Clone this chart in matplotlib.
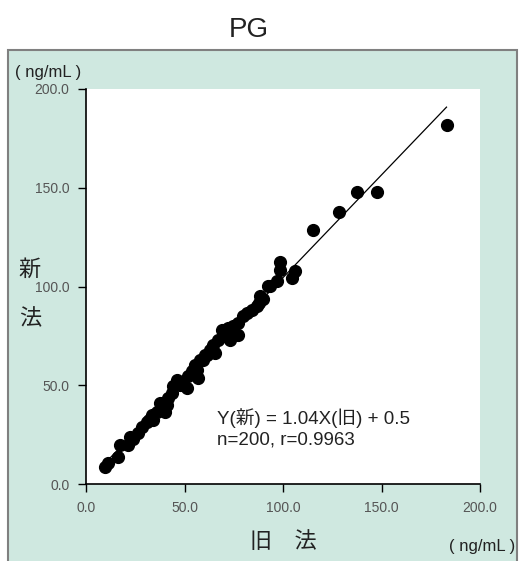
import matplotlib
matplotlib.use("Agg")
import matplotlib.pyplot as plt
from matplotlib.patches import Rectangle
import numpy as np

plt.rcParams['font.family'] = ['Liberation Sans', 'Noto Sans CJK JP']

old_x = [9.6, 11.3, 16.4, 17.3, 21.5, 22.3, 26.5, 28.2, 30.8, 33.4, 34.2, 35.9, 38.4, 37.6,
         41.0, 40.1, 41.8, 43.5, 44.3, 46.0, 51.1, 49.4, 51.9, 53.6, 56.2, 57.0, 55.3, 59.5,
         61.3, 55.3, 57.9, 60.4, 62.9, 64.6, 67.2, 70.6, 73.1, 77.3, 73.1, 68.9, 72.2, 74.8,
         77.3, 79.9, 81.6, 84.1, 88.0, 86.6, 88.3, 92.5, 96.8, 104.4, 106.0, 98.5, 98.5,
         93.4, 115.4, 128.6, 137.4, 147.5, 183.2, 24.0, 32.0, 47.5, 65.5, 90.0]
new_y = [8.8, 10.5, 13.5, 19.8, 19.8, 24.0, 25.7, 29.1, 31.6, 35.0, 32.5, 36.7, 39.2, 41.0,
         40.1, 36.7, 43.5, 46.0, 49.4, 52.8, 48.6, 51.1, 54.5, 57.0, 57.9, 53.6, 59.5, 62.9,
         65.5, 60.4, 62.9, 65.5, 68.0, 70.6, 73.1, 74.8, 73.1, 75.6, 76.5, 78.2, 79.0, 79.9,
         81.6, 84.9, 86.6, 88.3, 91.7, 90.0, 95.1, 100.2, 102.7, 104.4, 107.8, 108.6, 112.4,
         100.2, 128.6, 137.9, 148.0, 147.6, 181.7, 23.0, 32.5, 50.0, 66.5, 93.5]

slope = 1.04
intercept = 0.5
line_x = [10.0, 183.0]

ticks = [0, 50, 100, 150, 200]
tick_labels = ['0.0', '50.0', '100.0', '150.0', '200.0']

W, H = 522, 561
fig = plt.figure(figsize=(W / 100, H / 100), dpi=100)
fig.patch.set_facecolor('white')

# teal background panel
bgax = fig.add_axes([0, 0, 1, 1], zorder=-5)
bgax.set_xlim(0, W)
bgax.set_ylim(H, 0)
bgax.axis('off')
bgax.add_patch(Rectangle((8, 50), 517 - 8, 561 - 50 + 5, facecolor='#cfe8e0',
                         edgecolor='#808080', linewidth=1.5))

ax = fig.add_axes([86 / W, (561 - 484) / H, (480 - 86) / W, (484 - 89) / H], zorder=1)
ax.set_facecolor('white')
ax.set_xlim(0, 200)
ax.set_ylim(0, 200)
ax.spines['top'].set_visible(False)
ax.spines['right'].set_visible(False)
ax.spines['left'].set_linewidth(1.2)
ax.spines['bottom'].set_linewidth(1.2)
ax.set_xticks(ticks)
ax.set_xticklabels(tick_labels)
ax.set_yticks(ticks)
ax.set_yticklabels(tick_labels)
ax.tick_params(direction='out', length=6, width=1.0, labelsize=10, labelcolor='#555555',
               pad=6)

lx = np.array(line_x)
ax.plot(lx, slope * lx + intercept, color='black', linewidth=0.9, zorder=2)
ax.scatter(old_x, new_y, s=72, color='black', zorder=3, clip_on=False)

fig.text(217 / W, 1 - 418 / H, 'Y(新) = 1.04X(旧) + 0.5', ha='left', va='center',
         fontsize=13.5, color='#222222')
fig.text(217 / W, 1 - 440 / H, 'n=200, r=0.9963', ha='left', va='center',
         fontsize=13.5, color='#222222')

fig.text(249 / W, 1 - 30 / H, 'PG', ha='center', va='center', fontsize=20, color='#222222')
fig.text(48 / W, 1 - 73 / H, '( ng/mL )', ha='center', va='center', fontsize=12,
         color='#222222')
fig.text(482 / W, 1 - 547 / H, '( ng/mL )', ha='center', va='center', fontsize=12,
         color='#222222')
fig.text(283 / W, 1 - 543 / H, '旧　法', ha='center', va='center', fontsize=16,
         color='#222222')
fig.text(30 / W, 1 - 270 / H, '新', ha='center', va='center', fontsize=16, color='#222222')
fig.text(30 / W, 1 - 320 / H, '法', ha='center', va='center', fontsize=16, color='#222222')

fig.savefig('out.png', dpi=100)
